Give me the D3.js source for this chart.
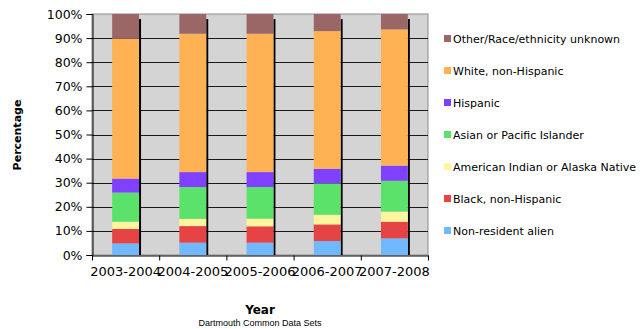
<!DOCTYPE html>
<html>
<head>
<meta charset="utf-8">
<script src="https://cdn.jsdelivr.net/npm/d3@7"></script>
<style>
  body { margin: 0; background: #fff; }
  svg { display: block; font-family: "DejaVu Sans", Verdana, sans-serif; }
</style>
</head>
<body>
<svg id="chart" width="643" height="329"></svg>
<script>
(function() {
    'use strict';

    // years on the x axis
    var years = ['2003-2004', '2004-2005', '2005-2006', '2006-2007', '2007-2008'];

    // percentages per group, bottom to top
    var nonResident = [4.8, 5.1, 5.1, 5.8, 6.9];
    var black       = [6.0, 6.9, 6.8, 6.9, 6.9];
    var amIndian    = [3.0, 3.0, 3.2, 4.0, 4.2];
    var asian       = [12.1, 13.2, 13.1, 13.0, 12.8];
    var hispanic    = [5.8, 6.2, 6.2, 6.1, 6.3];
    var white       = [58.1, 57.4, 57.4, 57.1, 56.5];
    var other       = [10.2, 8.2, 8.2, 7.1, 6.4];

    var yTicks = [0, 10, 20, 30, 40, 50, 60, 70, 80, 90, 100];

    var series = [
        { name: 'Non-resident alien', values: nonResident, color: '#70b8ff' },
        { name: 'Black, non-Hispanic', values: black, color: '#e64444' },
        { name: 'American Indian or Alaska Native', values: amIndian, color: '#fff59c' },
        { name: 'Asian or Pacific Islander', values: asian, color: '#5ae26a' },
        { name: 'Hispanic', values: hispanic, color: '#8040ff' },
        { name: 'White, non-Hispanic', values: white, color: '#ffb254' },
        { name: 'Other/Race/ethnicity unknown', values: other, color: '#9a6666' }
    ];

    /******************************************************************
        layout
     ******************************************************************/
    var svg = d3.select('#chart');
    var left = 92, right = 428, top = 14, bottom = 255;

    var x = d3.scaleBand().domain(years).range([left, right]).paddingInner(0.6).paddingOuter(0.3);
    var xb = d3.scaleBand().domain(years).range([left, right]);
    var y = d3.scaleLinear().domain([0, 100]).range([bottom, top]);

    // stacked data
    var rows = years.map(function(yr, i) {
        var r = { year: yr };
        series.forEach(function(s) { r[s.name] = s.values[i]; });
        return r;
    });
    var stacked = d3.stack().keys(series.map(function(s) { return s.name; }))(rows);

    // plot background
    svg.append('rect')
        .attr('x', left).attr('y', top)
        .attr('width', right - left).attr('height', bottom - top)
        .attr('fill', '#d4d4d4')
        .attr('stroke', '#8c8c8c').attr('stroke-width', 1);

    // gridlines
    svg.append('g').selectAll('line')
        .data(yTicks.slice(1, -1))
        .join('line')
            .attr('x1', left).attr('x2', right)
            .attr('y1', function(d) { return Math.round(y(d)) + 0.5; })
            .attr('y2', function(d) { return Math.round(y(d)) + 0.5; })
            .attr('stroke', '#1a1a1a').attr('stroke-width', 1);

    // bar shadows
    svg.append('g').selectAll('rect')
        .data(years)
        .join('rect')
            .attr('x', function(d) { return x(d) + x.bandwidth(); })
            .attr('y', top + 5)
            .attr('width', 2)
            .attr('height', bottom - top - 5)
            .attr('fill', '#000');

    // bars
    svg.append('g').selectAll('g')
        .data(stacked)
        .join('g')
            .attr('fill', function(d, i) { return series[i].color; })
        .selectAll('rect')
        .data(function(d) { return d; })
        .join('rect')
            .attr('x', function(d) { return x(d.data.year); })
            .attr('y', function(d) { return y(d[1]); })
            .attr('width', x.bandwidth())
            .attr('height', function(d) { return y(d[0]) - y(d[1]); });

    // y axis
    var yAxis = svg.append('g')
        .attr('transform', 'translate(' + (left + 0.5) + ',0)')
        .call(d3.axisLeft(y).tickValues(yTicks).tickFormat(function(d) { return d + '%'; }).tickSize(6).tickPadding(4));
    yAxis.select('.domain').attr('stroke', '#000');
    yAxis.selectAll('text').attr('font-size', 12.5).attr('font-family', '"DejaVu Sans", Verdana, sans-serif').attr('fill', '#000');

    // x axis
    var xAxis = svg.append('g')
        .attr('transform', 'translate(0,' + (bottom + 0.5) + ')')
        .call(d3.axisBottom(xb).tickSize(0).tickPadding(11));
    xAxis.select('.domain').attr('stroke', '#000');
    xAxis.selectAll('text').attr('font-size', 13).attr('font-family', '"DejaVu Sans", Verdana, sans-serif').attr('fill', '#000');
    xAxis.selectAll('line.sep')
        .data(xb.domain().map(function(d) { return xb(d); }).concat([right]))
        .join('line')
            .attr('class', 'sep')
            .attr('x1', function(d) { return d + 0.5; }).attr('x2', function(d) { return d + 0.5; })
            .attr('y1', 0).attr('y2', 5)
            .attr('stroke', '#000');

    // axis titles
    svg.append('text')
        .attr('transform', 'translate(21,135) rotate(-90)')
        .attr('text-anchor', 'middle')
        .attr('font-size', 11).attr('font-weight', 'bold')
        .text('Percentage');

    svg.append('text')
        .attr('x', 260).attr('y', 314)
        .attr('text-anchor', 'middle')
        .attr('font-size', 12).attr('font-weight', 'bold')
        .text('Year');

    svg.append('text')
        .attr('x', 260).attr('y', 326)
        .attr('text-anchor', 'middle')
        .attr('font-size', 9).attr('font-family', '"Liberation Sans", Arial, sans-serif')
        .text('Dartmouth Common Data Sets');

    // legend, top to bottom reversed order
    var legend = svg.append('g').selectAll('g')
        .data(series.slice().reverse())
        .join('g')
            .attr('transform', function(d, i) { return 'translate(444,' + (39 + i * 32) + ')'; });
    legend.append('rect')
        .attr('x', 0).attr('y', -4)
        .attr('width', 7).attr('height', 7)
        .attr('fill', function(d) { return d.color; });
    legend.append('text')
        .attr('x', 9).attr('y', 4)
        .attr('font-size', 11)
        .text(function(d) { return d.name; });
})();
</script>
</body>
</html>
